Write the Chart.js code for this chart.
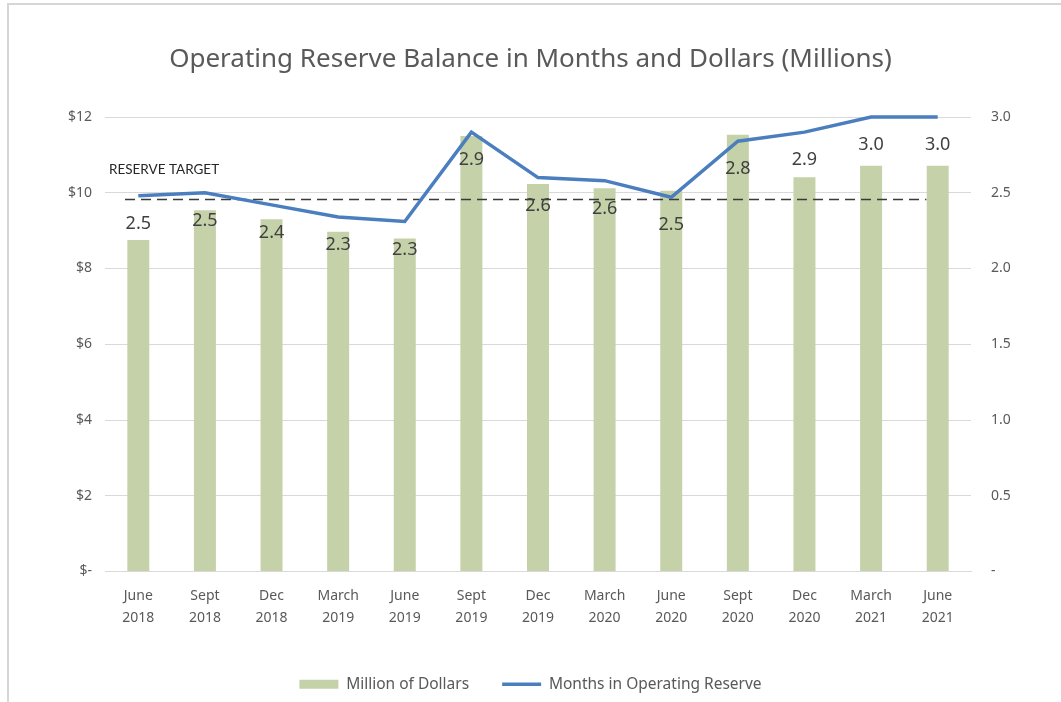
<!DOCTYPE html>
<html>
<head>
<meta charset="utf-8">
<script src="https://cdn.jsdelivr.net/npm/chart.js@4"></script>
<style>
  html, body { margin: 0; padding: 0; background: #fff; }
  #frame { position: absolute; left: 7px; top: 3px; width: 1100px; height: 760px;
           border-top: 2px solid #d6d6d6; border-left: 2px solid #d6d6d6; }
  #c { position: absolute; left: 0; top: 0; }
</style>
</head>
<body>
<div id="frame"></div>
<canvas id="c" width="1061" height="702"></canvas>
<script>
// ---- data ----
const categories = ['June 2018','Sept 2018','Dec 2018','March 2019','June 2019','Sept 2019','Dec 2019',
                    'March 2020','June 2020','Sept 2020','Dec 2020','March 2021','June 2021'];
const dollarsMillions = [8.75, 9.54, 9.30, 8.97, 8.79, 11.50, 10.23, 10.12, 10.05, 11.53, 10.41, 10.71, 10.71];
const monthsReserve   = [2.48, 2.50, 2.42, 2.34, 2.31, 2.90, 2.60, 2.58, 2.47, 2.84, 2.90, 3.00, 3.00];
const reserveTarget   = 9.82;            // in $ millions (left axis)
const reserveTargetSpan = [-0.2, 11.83]; // category-index span of the dashed target line
const leftTicks  = [0, 2, 4, 6, 8, 10, 12];
const rightTicks = [0, 0.5, 1.0, 1.5, 2.0, 2.5, 3.0];

const FONT = '"Noto Sans", "Open Sans", sans-serif';
const GREEN = '#c5d2a9';
const BLUE = '#4a7ebf';
const GREY_TXT = '#595959';

const labelPlugin = {
  id: 'pointLabels',
  afterDatasetsDraw(chart) {
    const ctx = chart.ctx;
    const meta = chart.getDatasetMeta(1);
    ctx.save();
    ctx.font = '18px ' + FONT;
    ctx.fillStyle = '#404040';
    ctx.textAlign = 'center';
    ctx.textBaseline = 'middle';
    meta.data.forEach((pt, i) => {
      ctx.fillText(monthsReserve[i].toFixed(1), pt.x, pt.y + 28);
    });
    // reserve target caption
    const y = chart.scales.y.getPixelForValue(reserveTarget);
    ctx.font = '13.5px Lato, sans-serif';
    ctx.fillStyle = '#262626';
    ctx.textAlign = 'left';
    ctx.fillText('RESERVE TARGET', chart.chartArea.left + 4, y - 30);
    ctx.restore();
  }
};

new Chart(document.getElementById('c'), {
  type: 'bar',
  data: {
    labels: categories.map(c => c.split(' ')),
    datasets: [
      {
        label: 'Million of Dollars',
        data: dollarsMillions,
        backgroundColor: GREEN,
        yAxisID: 'y',
        xAxisID: 'x',
        grouped: false,
        categoryPercentage: 1,
        barPercentage: 0.33,
        order: 3
      },
      {
        type: 'line',
        label: 'Months in Operating Reserve',
        data: monthsReserve,
        borderColor: BLUE,
        backgroundColor: BLUE,
        borderWidth: 3.5,
        pointRadius: 0,
        tension: 0,
        clip: false,
        yAxisID: 'y2',
        xAxisID: 'x',
        order: 1
      },
      {
        type: 'line',
        label: 'Reserve Target',
        data: reserveTargetSpan.map(x => ({ x: x, y: reserveTarget })),
        borderColor: '#3a3a3a',
        borderWidth: 1.5,
        borderDash: [10, 6],
        pointRadius: 0,
        yAxisID: 'y',
        xAxisID: 'xt',
        order: 2
      }
    ]
  },
  options: {
    responsive: false,
    animation: false,
    layout: { padding: { left: 0, right: 0, top: 0, bottom: 0 } },
    plugins: {
      title: {
        display: true,
        text: 'Operating Reserve Balance in Months and Dollars (Millions)',
        color: GREY_TXT,
        font: { family: FONT, size: 26, weight: 'normal' },
        padding: { top: 44.4, bottom: 41.4 }
      },
      legend: {
        position: 'bottom',
        labels: {
          color: GREY_TXT,
          font: { family: FONT, size: 15.5 },
          usePointStyle: true,
          pointStyleWidth: 39,
          boxHeight: 9,
          padding: 33,
          generateLabels(chart) {
            return [
              { text: 'Million of Dollars', fillStyle: GREEN, strokeStyle: GREEN, lineWidth: 0,
                pointStyle: 'rect', datasetIndex: 0, hidden: !chart.isDatasetVisible(0), fontColor: GREY_TXT },
              { text: 'Months in Operating Reserve', fillStyle: BLUE, strokeStyle: BLUE, lineWidth: 3.5,
                pointStyle: 'line', datasetIndex: 1, hidden: !chart.isDatasetVisible(1), fontColor: GREY_TXT }
            ];
          }
        }
      },
      tooltip: { enabled: false }
    },
    scales: {
      x: {
        type: 'category',
        offset: true,
        grid: { display: false, drawTicks: false },
        border: { display: true, color: '#d9d9d9', width: 1 },
        ticks: { color: GREY_TXT, font: { family: FONT, size: 14, lineHeight: 1.55 }, padding: 14,
                 maxRotation: 0, autoSkip: false },
        afterFit(s) { s.height = 72; }
      },
      xt: {
        type: 'linear',
        display: false,
        offset: false,
        grid: { offset: false },
        min: -0.5,
        max: 12.5
      },
      y: {
        position: 'left',
        min: 0, max: 12,
        afterBuildTicks(s) { s.ticks = leftTicks.map(v => ({ value: v })); },
        grid: { color: '#d9d9d9', drawTicks: false, lineWidth: 1 },
        border: { display: false },
        ticks: {
          color: GREY_TXT, font: { family: FONT, size: 14 }, padding: 13,
          callback: v => v === 0 ? '$-' : '$' + v
        },
        afterFit(s) { s.width = 105; }
      },
      y2: {
        position: 'right',
        min: 0, max: 3,
        afterBuildTicks(s) { s.ticks = rightTicks.map(v => ({ value: v })); },
        grid: { display: false, drawTicks: false },
        border: { display: false },
        ticks: {
          color: GREY_TXT, font: { family: FONT, size: 14 }, padding: 20,
          callback: v => v === 0 ? '-' : v.toFixed(1)
        },
        afterFit(s) { s.width = 90; }
      }
    }
  },
  plugins: [labelPlugin]
});
</script>
</body>
</html>
